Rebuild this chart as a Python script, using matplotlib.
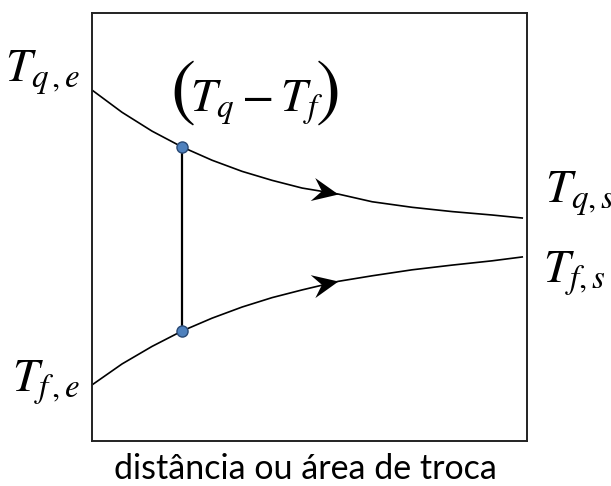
import numpy as np
import matplotlib
matplotlib.use("Agg")
import matplotlib.pyplot as plt
from matplotlib.path import Path

plt.rcParams['mathtext.fontset'] = 'stix'

# distância ao longo do trocador (0 = entrada, 10 = saída)
x = [0.0, 0.69, 1.38, 2.07, 2.76, 3.45, 4.14, 4.83, 5.66, 6.44, 7.36, 8.28, 9.20, 9.89]
# fluido quente (q) e fluido frio (f)
t_quente = [82.0, 76.8, 72.4, 68.7, 65.6, 63.0, 60.9, 59.1, 57.7, 55.9, 54.6, 53.6, 52.8, 52.1]
t_frio = [13.1, 18.0, 22.1, 25.7, 28.7, 31.3, 33.5, 35.3, 37.3, 38.6, 40.0, 41.1, 42.1, 43.0]
i_ponto = 3   # posição da diferença (T_q - T_f)
i_seta = 8    # posição das setas de escoamento

fig = plt.figure(figsize=(6.11, 4.86), dpi=100)
ax = fig.add_axes([92 / 611, 45 / 486, 435 / 611, 428 / 486])
ax.set_xlim(0, 10)
ax.set_ylim(0, 100)
ax.set_xticks([])
ax.set_yticks([])
for s in ax.spines.values():
    s.set_linewidth(1.4)
    s.set_color('#222222')

ax.plot(x, t_quente, color='black', lw=1.2)
ax.plot(x, t_frio, color='black', lw=1.2)

# linha vertical entre os dois fluidos
ax.plot([x[i_ponto], x[i_ponto]], [t_frio[i_ponto], t_quente[i_ponto]],
        color='black', lw=1.6, zorder=3)
ax.plot([x[i_ponto]] * 2, [t_quente[i_ponto], t_frio[i_ponto]], 'o', ms=8,
        mfc='#4F81BD', mec='#2A4A75', mew=1.0, zorder=4)

# setas tipo "stealth" orientadas pela tangente
fig.canvas.draw()
def seta(ys):
    p0 = ax.transData.transform((x[i_seta - 1], ys[i_seta - 1]))
    p1 = ax.transData.transform((x[i_seta + 1], ys[i_seta + 1]))
    ang = np.arctan2(p1[1] - p0[1], p1[0] - p0[0])
    v = np.array([[0, 0], [-1, 0.45], [-0.65, 0], [-1, -0.45], [0, 0]])
    r = np.array([[np.cos(ang), -np.sin(ang)], [np.sin(ang), np.cos(ang)]])
    v = v @ r.T
    marker = Path(v, [Path.MOVETO, Path.LINETO, Path.LINETO, Path.LINETO, Path.CLOSEPOLY])
    ax.plot(x[i_seta], ys[i_seta], marker=marker, ms=40, color='black',
            mec='black', mew=0, zorder=5)

seta(t_quente)
seta(t_frio)

fs = 34
fig.text(80 / 611, 1 - 82 / 486, r'$T_{q\,,e}$', fontsize=fs, ha='right', va='baseline')
fig.text(80 / 611, 1 - 392 / 486, r'$T_{f\,,e}$', fontsize=fs, ha='right', va='baseline')
fig.text(545 / 611, 1 - 203 / 486, r'$T_{q,s}$', fontsize=fs, ha='left', va='baseline')
fig.text(543 / 611, 1 - 283 / 486, r'$T_{f,s}$', fontsize=fs, ha='left', va='baseline')

# diferença de temperatura com parênteses grandes
fig.text(190 / 611, 1 - 112 / 486, r'$T_q - T_f$', fontsize=fs, ha='left', va='baseline')
fig.text(170 / 611, 1 - 94 / 486, '(', fontsize=54, family='STIXGeneral',
         ha='left', va='center')
fig.text(341 / 611, 1 - 94 / 486, ')', fontsize=54, family='STIXGeneral',
         ha='right', va='center')

fig.text(0.5, 1 - 479 / 486, 'distância ou área de troca', fontsize=24.5,
         family=['Lato', 'DejaVu Sans'], ha='center', va='baseline')

fig.savefig('out.png', dpi=100)
